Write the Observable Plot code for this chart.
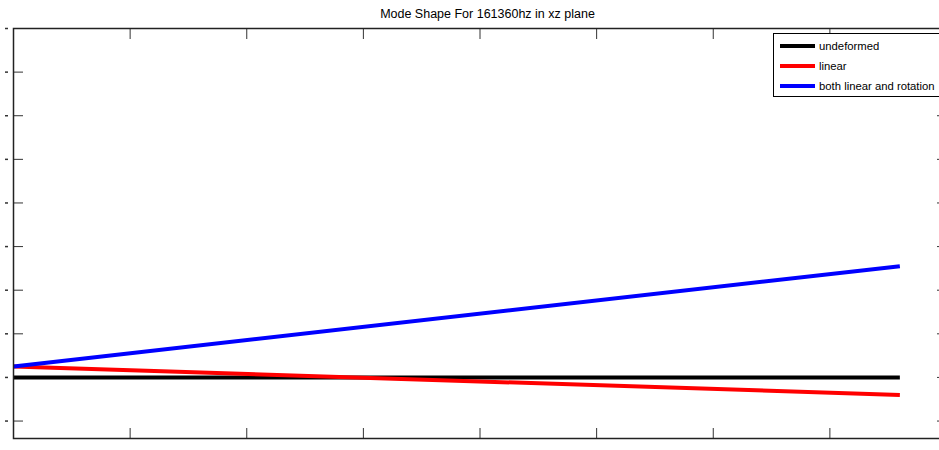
<!DOCTYPE html>
<html>
<head>
<meta charset="utf-8">
<script src="https://cdn.jsdelivr.net/npm/d3@7"></script>
<script src="https://cdn.jsdelivr.net/npm/@observablehq/plot@0.6"></script>
<style>
  html, body { margin: 0; padding: 0; background: #fff; overflow: hidden; }
  #wrap { position: relative; width: 939px; height: 450px; overflow: hidden; font-family: "Liberation Sans", Arial, sans-serif; }
  #chart svg { max-width: none !important; }
  #title { position: absolute; left: 0; top: 7px; width: 975px; text-align: center; font-size: 12.5px; color: #000; }
  #legend { position: absolute; left: 773px; top: 33px; width: 200px; height: 62px; border: 1px solid #000; background: #fff; }
  .item { position: absolute; left: 6px; height: 14px; font-size: 11.3px; line-height: 14px; white-space: nowrap; }
  .sw { display: inline-block; width: 35px; height: 4px; vertical-align: middle; margin-right: 4px; position: relative; top: -1px; }
</style>
</head>
<body>
<div id="wrap">
  <div id="chart"></div>
  <div id="title"></div>
  <div id="legend"></div>
</div>
<script>
const titleText = "Mode Shape For 161360hz in xz plane";
const seriesNames = ["undeformed", "linear", "both linear and rotation"];
const seriesColors = ["#000000", "#ff0000", "#0000ff"];
const xPts = [0, 7.6];
const undeformed = [0, 0];
const linear = [0.25, -0.40];
const bothLinearRotation = [0.25, 2.55];
const xTicks = [0, 1, 2, 3, 4, 5, 6, 7, 8];
const yTicks = [-1, 0, 1, 2, 3, 4, 5, 6, 7, 8];

const seriesValues = [undeformed, linear, bothLinearRotation];
const rows = seriesNames.flatMap((name, i) =>
  xPts.map((x, j) => ({series: name, x, y: seriesValues[i][j]}))
);

const blank = () => "";
const chart = Plot.plot({
  width: 947,
  height: 450,
  marginLeft: 13,
  marginRight: 1,
  marginTop: 28,
  marginBottom: 12,
  style: {background: "transparent", maxWidth: "none"},
  x: {domain: [0, 8], axis: null},
  y: {domain: [-1.4, 8], axis: null},
  color: {domain: seriesNames, range: seriesColors},
  marks: [
    Plot.axisX({anchor: "top", ticks: xTicks, tickSize: -10, tickFormat: blank, label: null, stroke: "#333"}),
    Plot.axisX({anchor: "bottom", ticks: xTicks, tickSize: -10, tickFormat: blank, label: null, stroke: "#333"}),
    Plot.axisY({anchor: "left", ticks: yTicks, tickSize: -10, tickFormat: blank, label: null, stroke: "#333"}),
    Plot.axisY({anchor: "right", ticks: yTicks, tickSize: -10, tickFormat: blank, label: null, stroke: "#333"}),
    Plot.axisY({anchor: "left", ticks: yTicks, tickSize: 3, dx: -5, tickFormat: blank, label: null, stroke: "#333", strokeWidth: 1.5}),
    Plot.line(rows, {x: "x", y: "y", z: "series", stroke: "series", strokeWidth: 4, strokeLinecap: "butt"}),
    Plot.frame({stroke: "#222", strokeWidth: 1.5})
  ]
});
document.getElementById("chart").appendChild(chart);

document.getElementById("title").textContent = titleText;
const legend = document.getElementById("legend");
seriesNames.forEach((name, i) => {
  const item = document.createElement("div");
  item.className = "item";
  item.style.top = (5 + i * 20) + "px";
  const sw = document.createElement("span");
  sw.className = "sw";
  sw.style.background = seriesColors[i];
  item.appendChild(sw);
  item.appendChild(document.createTextNode(name));
  legend.appendChild(item);
});
</script>
</body>
</html>
